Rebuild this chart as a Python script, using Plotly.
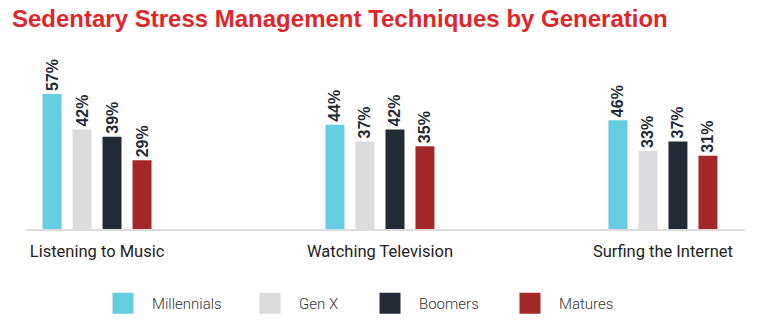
import plotly.graph_objects as go

categories = ["Listening to Music", "Watching Television", "Surfing the Internet"]
series_names = ["Millennials", "Gen X", "Boomers", "Matures"]
millennials = [57, 44, 46]
gen_x = [42, 37, 33]
boomers = [39, 42, 37]
matures = [29, 35, 31]
series_values = [millennials, gen_x, boomers, matures]
colors = ["#66CCE0", "#DCDCDE", "#212A35", "#A4282A"]

W, H = 760, 329
fig = go.Figure()

legend_x = [112, 259, 379, 519]
for i, (name, vals, col) in enumerate(zip(series_names, series_values, colors)):
    fig.add_trace(go.Bar(
        x=categories, y=vals, name=name, marker=dict(color=col, line=dict(width=0)),
        text=[f"{v}%" for v in vals], textposition="outside", textangle=-90,
        constraintext="none",
        textfont=dict(family="Liberation Sans", size=16, color="#222A33", weight="bold"),
        cliponaxis=False, showlegend=False,
    ))
    lg = "legend" if i == 0 else f"legend{i+1}"
    fig.add_trace(go.Scatter(
        x=[None], y=[None], mode="markers", name=name,
        marker=dict(symbol="square", size=16, color=col, line=dict(color=col, width=5)),
        showlegend=True, legend=lg,
    ))

legend_common = dict(orientation="h", xanchor="left", yanchor="middle", yref="container",
                     y=1 - 303.5 / H, bgcolor="rgba(0,0,0,0)", borderwidth=0, itemwidth=48,
                     font=dict(family="Roboto", size=15, color="#333", weight=300))
layout_legends = {}
for i, lx in enumerate(legend_x):
    key = "legend" if i == 0 else f"legend{i+1}"
    layout_legends[key] = dict(legend_common, x=(lx - 18) / W, xref="container")

fig.update_layout(
    width=W, height=H, margin=dict(l=0, r=0, t=87, b=100),
    paper_bgcolor="white", plot_bgcolor="white",
    barmode="group", bargap=0.576, bargroupgap=0.367,
    title=dict(text="<b>Sedentary Stress Management Techniques by Generation</b>",
               x=12 / W, xref="container", xanchor="left",
               y=1 - 19 / H, yref="container", yanchor="middle",
               font=dict(family="Liberation Sans", size=24, color="#E0262B")),
    xaxis=dict(domain=[26 / W, 745 / W], range=[-0.251, 2.29], showline=True,
               linecolor="#DDDDDD", linewidth=2, ticks="", showgrid=False,
               ticklabelstandoff=6,
               tickfont=dict(family="Roboto", size=16.5, color="#222", weight="normal")),
    yaxis=dict(range=[0, 60], visible=False, showgrid=False, zeroline=False),
    **layout_legends,
)

fig.write_html("out.html")
